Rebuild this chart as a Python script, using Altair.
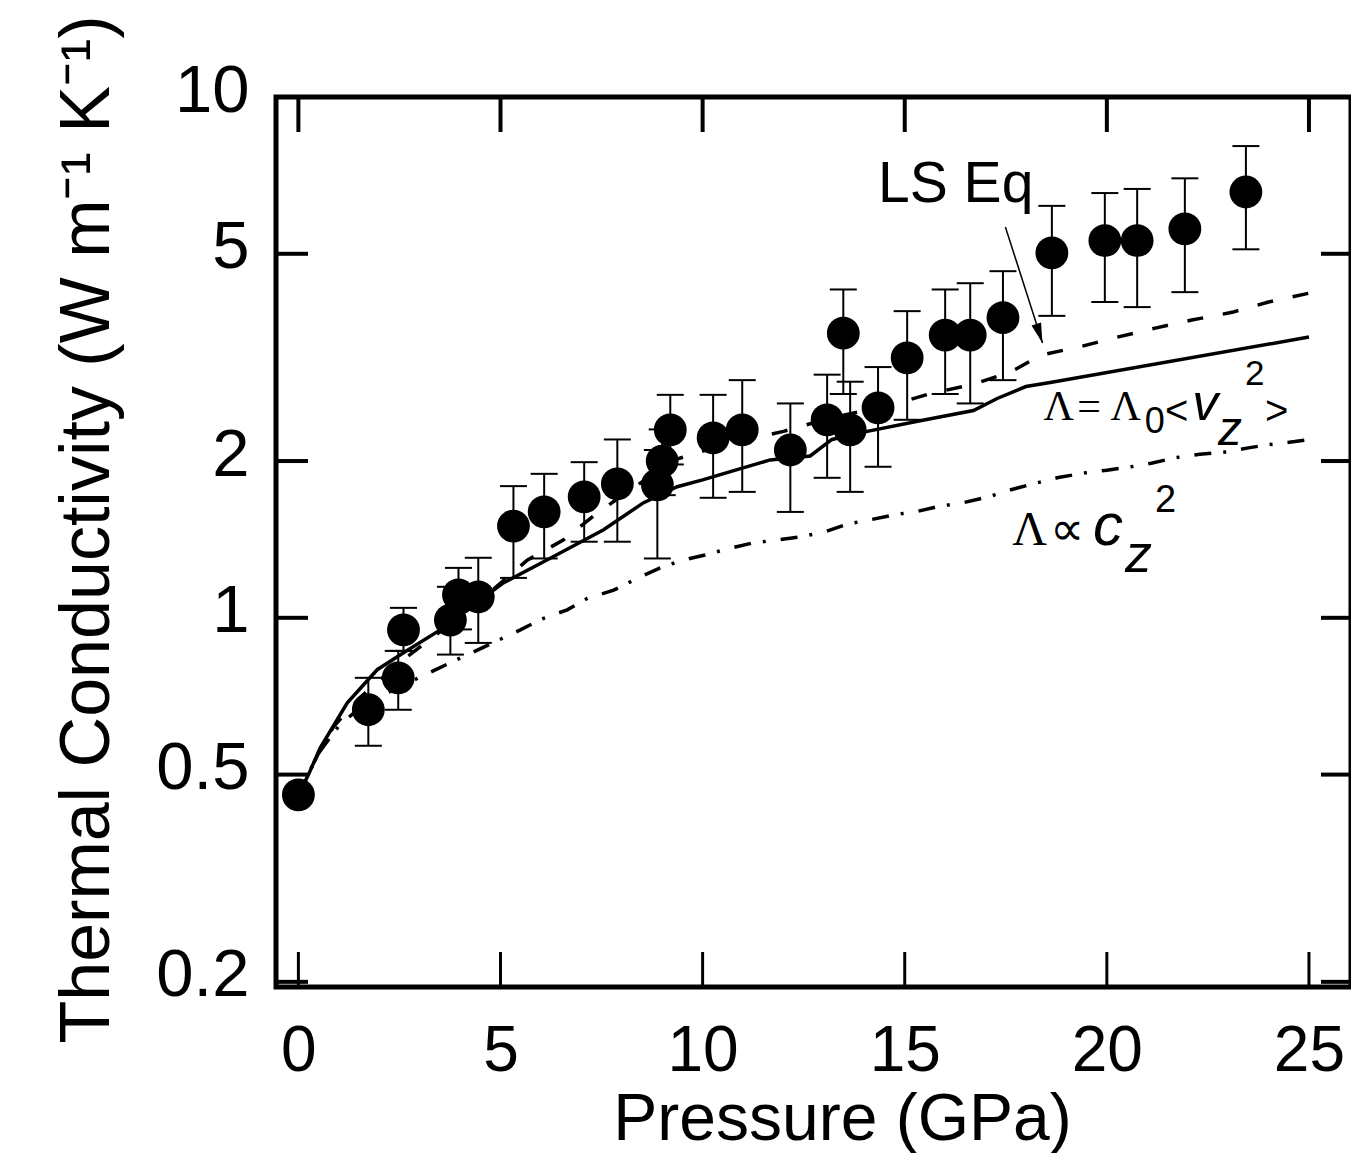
import altair as alt
import pandas as pd

pt_x = [0.0, 1.73, 2.47, 2.60, 3.76, 3.96, 4.45, 5.32, 6.08, 7.07, 7.89, 8.88, 9.0, 9.2,
        10.26, 10.98, 12.17, 13.08, 13.48, 13.65, 14.34, 15.06, 16.0, 16.62, 17.43,
        18.64, 19.95, 20.75, 21.93, 23.44]
pt_y = [0.457, 0.666, 0.767, 0.948, 0.99, 1.107, 1.097, 1.50, 1.597, 1.707, 1.808, 1.80, 2.0, 2.295,
        2.215, 2.295, 2.10, 2.40, 3.52, 2.295, 2.53, 3.155, 3.49, 3.49, 3.77,
        5.02, 5.30, 5.30, 5.58, 6.57]
pt_hi = [None, 0.767, 0.864, 1.045, 1.147, 1.247, 1.304, 1.79, 1.89, 1.99, 2.2, 2.1, 2.3, 2.68,
         2.68, 2.86, 2.58, 2.93, 4.27, 2.84, 3.03, 3.88, 4.27, 4.39, 4.63,
         6.18, 6.54, 6.66, 6.98, 8.05]
pt_lo = [None, 0.568, 0.666, 0.864, 0.85, 0.95, 0.895, 1.193, 1.30, 1.40, 1.40, 1.30, 1.72, 1.97,
         1.70, 1.745, 1.597, 1.857, 2.69, 1.745, 1.95, 2.40, 2.69, 2.58, 2.86,
         3.80, 4.04, 3.95, 4.22, 5.10]

solid_x = [0, 0.25, 0.54, 1.21, 1.95, 2.6, 3.51, 5.07, 6.3, 7.55, 8.53, 9.37, 10.0, 11.0,
           11.67, 12.66, 13.2, 14.07, 15.38, 16.7, 17.3, 18.0, 18.6, 25.0]
solid_y = [0.457, 0.50, 0.563, 0.687, 0.795, 0.857, 0.948, 1.167, 1.31, 1.476, 1.662, 1.785, 1.84, 1.94,
           2.01, 2.045, 2.2, 2.28, 2.39, 2.50, 2.64, 2.78, 2.83, 3.46]

dash_x = [0, 0.5, 0.87, 1.5, 2.5, 3.5, 4.5, 5.66, 6.55, 7.35, 8.3, 9.3, 10.5, 12.0, 13.0, 14.0,
          14.8, 15.6, 16.7, 17.6, 18.4, 19.3, 20.2, 21.2, 22.1, 23.1, 24.0, 25.0]
dash_y = [0.457, 0.55, 0.618, 0.70, 0.82, 0.94, 1.08, 1.29, 1.41, 1.58, 1.78, 2.01, 2.15, 2.28, 2.40, 2.50,
          2.58, 2.69, 2.81, 2.96, 3.2, 3.31, 3.45, 3.6, 3.73, 3.86, 4.04, 4.2]

dd_x = [0, 0.5, 1.0, 1.5, 2.2, 3.02, 3.76, 4.33, 5.49, 6.03, 6.65, 7.15, 7.8, 8.38, 8.95, 9.5,
        10.06, 10.68, 11.2, 11.8, 12.4, 13.0, 13.6, 14.1, 14.8, 15.3, 15.9, 16.4, 17.1, 17.6,
        18.2, 18.8, 19.5, 20.0, 20.6, 21.1, 21.7, 22.3, 22.9, 23.5, 24.0, 24.65, 25.0]
dd_y = [0.457, 0.55, 0.62, 0.67, 0.718, 0.77, 0.82, 0.86, 0.948, 0.995, 1.036, 1.09, 1.13, 1.19, 1.247, 1.29,
        1.32, 1.36, 1.39, 1.41, 1.43, 1.46, 1.515, 1.54, 1.58, 1.6, 1.64, 1.66, 1.71, 1.76,
        1.81, 1.86, 1.9, 1.92, 1.95, 1.98, 2.03, 2.06, 2.08, 2.12, 2.15, 2.18, 2.2]

x_ticks = [0, 5, 10, 15, 20, 25]
y_ticks = [0.2, 0.5, 1, 2, 5, 10]

# annotations (text, x, y, font size)
serif_txt = ["Λ", "=", "Λ", "Λ", "∝"]
serif_x = [18.43, 19.27, 20.09, 17.66, 18.60]
serif_y = [2.399, 2.399, 2.399, 1.381, 1.381]
serif_fs = [42, 42, 42, 48, 48]

sans_txt = ["0", "<", "2", ">", "2", "LS Eq"]
sans_x = [20.94, 21.44, 23.42, 23.91, 21.19, 14.34]
sans_y = [2.265, 2.357, 2.801, 2.357, 1.597, 6.29]
sans_fs = [36, 40, 35, 40, 38, 57]

ital_txt = ["v", "z", "c", "z"]
ital_x = [22.11, 22.75, 19.66, 20.45]
ital_y = [2.399, 2.148, 1.381, 1.225]
ital_fs = [52, 48, 60, 54]

arrow_x = [17.49, 18.41]
arrow_y = [5.63, 3.37]
head_x = [18.33]
head_y = [3.516]

# ---- scales / axes ----
W, H = 1075, 890
xs = alt.Scale(domain=[-0.554, 26.04], nice=False, zero=False)
ys = alt.Scale(type="log", domain=[0.1955, 10], nice=False)
FONT = "Liberation Sans"

xax = alt.Axis(values=x_ticks, title="Pressure (GPa)", grid=False, domain=False, ticks=False,
               tickSize=0, labelFontSize=64, labelFont=FONT, labelColor="black",
               labelBaseline="alphabetic", labelPadding=83, labelFlush=False, labelOverlap=False,
               titleFont=FONT, titleFontSize=66, titleFontWeight="normal", titleColor="black",
               titleX=566, titleY=152, titleBaseline="alphabetic", titleAnchor="middle")
yax = alt.Axis(values=y_ticks, format="~g", title="Thermal Conductivity (W m⁻¹ K⁻¹)", grid=False,
               domain=False, ticks=False, tickSize=0, labelFontSize=67, labelFont=FONT,
               labelColor="black", labelPadding=27, labelOffset=-6, labelFlush=False,
               labelOverlap=False,
               titleFont=FONT, titleFontSize=70, titleFontWeight="normal", titleColor="black",
               titleAngle=270, titleX=-168, titleY=432, titleBaseline="alphabetic",
               titleAlign="center")


def X(f):
    return alt.X(f, type="quantitative", scale=xs, axis=xax)


def Y(f):
    return alt.Y(f, type="quantitative", scale=ys, axis=yax)


pts = pd.DataFrame({"x": pt_x, "y": pt_y, "hi": pt_hi, "lo": pt_lo})
err = pts.dropna()

solid = pd.DataFrame({"x": solid_x, "y": solid_y})
dashed = pd.DataFrame({"x": dash_x, "y": dash_y})
dashdot = pd.DataFrame({"x": dd_x, "y": dd_y})

lw = 3.5
l_solid = alt.Chart(solid).mark_line(color="black", strokeWidth=lw).encode(x=X("x"), y=Y("y"), order="x:Q")
l_dash = alt.Chart(dashed).mark_line(color="black", strokeWidth=lw, strokeDash=[16, 20]).encode(
    x=X("x"), y=Y("y"), order="x:Q")
l_dd = alt.Chart(dashdot).mark_line(color="black", strokeWidth=lw, strokeDash=[17, 12, 3, 15]).encode(
    x=X("x"), y=Y("y"), order="x:Q")

ebar = alt.Chart(err).mark_rule(color="black", strokeWidth=2).encode(x=X("x"), y=Y("lo"), y2="hi")
cap_hi = alt.Chart(err).mark_rule(color="black", strokeWidth=2, xOffset=-13.5, x2Offset=13.5).encode(
    x=X("x"), x2="x", y=Y("hi"))
cap_lo = alt.Chart(err).mark_rule(color="black", strokeWidth=2, xOffset=-13.5, x2Offset=13.5).encode(
    x=X("x"), x2="x", y=Y("lo"))

points = alt.Chart(pts).mark_point(filled=True, shape="circle", size=1075, color="black",
                                   opacity=1, strokeWidth=0).encode(x=X("x"), y=Y("y"))

# inward ticks on all four sides
xt = pd.DataFrame({"t": x_ticks})
yt = pd.DataFrame({"t": y_ticks})
t_top = alt.Chart(xt).mark_rule(color="black", strokeWidth=4).encode(
    x=X("t"), y=alt.value(0), y2=alt.value(35))
t_bot = alt.Chart(xt).mark_rule(color="black", strokeWidth=3).encode(
    x=X("t"), y=alt.value(H), y2=alt.value(H - 35))
t_left = alt.Chart(yt).mark_rule(color="black", strokeWidth=4).encode(
    y=Y("t"), x=alt.value(0), x2=alt.value(32))
t_right = alt.Chart(yt).mark_rule(color="black", strokeWidth=4).encode(
    y=Y("t"), x=alt.value(W), x2=alt.value(W - 30))

# annotations
serif = alt.Chart(pd.DataFrame({"x": serif_x, "y": serif_y, "t": serif_txt, "fs": serif_fs})).mark_text(
    align="left", baseline="alphabetic", font="Liberation Serif", color="black").encode(
    x=X("x"), y=Y("y"), text="t:N", size=alt.Size("fs:Q", scale=None, legend=None))
sans = alt.Chart(pd.DataFrame({"x": sans_x, "y": sans_y, "t": sans_txt, "fs": sans_fs})).mark_text(
    align="left", baseline="alphabetic", font=FONT, color="black").encode(
    x=X("x"), y=Y("y"), text="t:N", size=alt.Size("fs:Q", scale=None, legend=None))
ital = alt.Chart(pd.DataFrame({"x": ital_x, "y": ital_y, "t": ital_txt, "fs": ital_fs})).mark_text(
    align="left", baseline="alphabetic", font=FONT, fontStyle="italic", color="black").encode(
    x=X("x"), y=Y("y"), text="t:N", size=alt.Size("fs:Q", scale=None, legend=None))

arrow = alt.Chart(pd.DataFrame({"x": arrow_x, "y": arrow_y})).mark_line(
    color="black", strokeWidth=1.5).encode(x=X("x"), y=Y("y"), order="x:Q")
head = alt.Chart(pd.DataFrame({"x": head_x, "y": head_y})).mark_point(
    shape="M-0.5,-1L0,1L0.5,-1Z", filled=True, size=400, angle=342.3, color="black",
    opacity=1, strokeWidth=0).encode(x=X("x"), y=Y("y"))

chart = alt.layer(
    l_dd, l_dash, l_solid, ebar, cap_hi, cap_lo, points,
    t_top, t_bot, t_left, t_right,
    arrow, head, serif, sans, ital,
).properties(
    width=W, height=H,
    background="white",
    autosize=alt.AutoSizeParams(type="none"),
    padding={"left": 268, "top": 89, "right": 0, "bottom": 166},
).configure_view(
    stroke="black", strokeWidth=5
)

chart.save("out.html", embed_options={"renderer": "svg", "actions": False})
